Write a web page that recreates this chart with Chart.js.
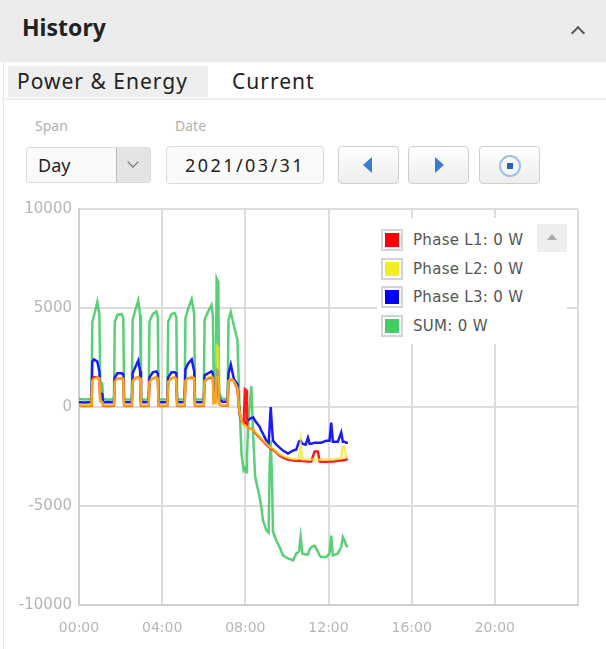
<!DOCTYPE html>
<html lang="en">
<head>
<meta charset="UTF-8">
<title>History</title>
<script src="https://cdn.jsdelivr.net/npm/chart.js"></script>
<style>
    html, body {
        margin: 0;
        padding: 0;
        width: 606px;
        height: 649px;
        background: #ffffff;
        font-family: "Noto Sans", sans-serif;
        overflow: hidden;
    }
    .abs { position: absolute; }
    .header {
        left: 0; top: 0; width: 606px; height: 62px;
        background: #ececec;
    }
    .header h1 {
        position: absolute; left: 22px; top: 11px; margin: 0;
        font-size: 23px; font-weight: bold; color: #222;
    }
    .chevron {
        left: 573px; top: 28px; width: 8px; height: 8px;
        border-left: 2px solid #555; border-top: 2px solid #555;
        transform: rotate(45deg);
    }
    .vline { left: 3px; top: 62px; width: 1px; height: 587px; background: #e6e6e6; }
    .tab {
        top: 66px; height: 31px; line-height: 31px;
        font-size: 21px; letter-spacing: 1px; color: #222;
    }
    .tab.active { left: 8px; width: 200px; background: #eeeeee; padding-left: 9px; box-sizing: border-box; }
    .divider { left: 3px; top: 98px; width: 603px; height: 2px; background: #ededed; }
    .lbl { top: 116px; font-size: 14px; color: #b0b0b0; }
    .select {
        left: 26px; top: 147px; width: 125px; height: 36px;
        border: 1px solid #dcdcdc; border-radius: 3px; background: #fafafa;
        box-sizing: border-box;
    }
    .select span { position: absolute; left: 11px; top: 5px; font-size: 18px; color: #222; }
    .select .drop {
        position: absolute; right: 0; top: 0; width: 33px; height: 34px;
        background: #e4e4e4; border-left: 1px solid #b8b8b8;
    }
    .select .drop:after {
        content: ""; position: absolute; left: 12px; top: 10px; width: 7px; height: 7px;
        border-right: 1.5px solid #666; border-bottom: 1.5px solid #666;
        transform: rotate(45deg);
    }
    .date {
        left: 166px; top: 146px; width: 158px; height: 38px;
        border: 1px solid #dcdcdc; border-radius: 4px; background: #fafafa;
        box-sizing: border-box; text-align: center; line-height: 36px;
        font-size: 18px; letter-spacing: 2.4px; color: #222;
    }
    .btn {
        top: 146px; width: 61px; height: 38px; box-sizing: border-box;
        border: 1px solid #cfcfcf; border-radius: 4px;
        background: linear-gradient(#ffffff, #ededed);
    }
    .tri-l {
        left: 24px; top: 10px; width: 0; height: 0;
        border-top: 8px solid transparent; border-bottom: 8px solid transparent;
        border-right: 9px solid #3b7bd8;
    }
    .tri-r {
        left: 26px; top: 10px; width: 0; height: 0;
        border-top: 8px solid transparent; border-bottom: 8px solid transparent;
        border-left: 9px solid #3b7bd8;
    }
    .ring {
        left: 19px; top: 8px; width: 18px; height: 18px; border-radius: 50%;
        border: 2px solid #9cc0ea; background: #f4f8fd;
    }
    .ring:after {
        content: ""; position: absolute; left: 6px; top: 6px; width: 6px; height: 6px;
        background: #2a5fb8;
    }
    #chartBox { left: 0; top: 195px; width: 600px; height: 450px; }
    .legend {
        left: 377px; top: 218px; width: 190px; height: 126px; background: #ffffff;
    }
    .legend .row {
        position: absolute; left: 4px; height: 24px;
        font-family: "DejaVu Sans", sans-serif; font-size: 15px; letter-spacing: 0.3px; color: #555;
    }
    .legend .sw {
        position: absolute; left: 0; top: 0; width: 22px; height: 22px;
        box-sizing: border-box; border: 2px solid #d4d4d4; background: #fff;
    }
    .legend .sw i {
        position: absolute; left: 2px; top: 2px; width: 14px; height: 14px;
    }
    .legend .row span { position: absolute; left: 32px; top: 2px; white-space: nowrap; }
    .upbtn { left: 537px; top: 224px; width: 30px; height: 28px; background: #eeeeee; }
    .upbtn:after {
        content: ""; position: absolute; left: 10px; top: 10px; width: 0; height: 0;
        border-left: 5px solid transparent; border-right: 5px solid transparent;
        border-bottom: 6px solid #a8a8a8;
    }
</style>
</head>
<body>
<div class="abs header"><h1>History</h1></div>
<div class="abs chevron"></div>
<div class="abs vline"></div>
<div class="abs tab active">Power &amp; Energy</div>
<div class="abs tab" style="left: 232px;">Current</div>
<div class="abs divider"></div>

<div class="abs lbl" style="left: 35px;">Span</div>
<div class="abs lbl" style="left: 175px;">Date</div>
<div class="abs select"><span>Day</span><div class="drop"></div></div>
<div class="abs date">2021/03/31</div>
<div class="abs btn" style="left: 338px;"><div class="abs tri-l"></div></div>
<div class="abs btn" style="left: 408px;"><div class="abs tri-r"></div></div>
<div class="abs btn" style="left: 479px;"><div class="abs ring"></div></div>

<div id="chartBox" class="abs"><canvas id="history" width="600" height="450"></canvas></div>
<div id="legend" class="abs legend"></div>
<div class="abs upbtn"></div>

<script>
// time of day in hours
const times = [
    0.00, 0.30, 0.60, 0.64, 0.72, 0.88, 0.98, 1.02, 1.12, 1.16,
    1.40, 1.68, 1.72, 1.85, 2.05, 2.13, 2.17, 2.35, 2.54, 2.58,
    2.70, 2.85, 2.94, 2.98, 3.15, 3.35, 3.39, 3.55, 3.72, 3.79,
    3.83, 4.05, 4.25, 4.29, 4.45, 4.60, 4.68, 4.72, 4.90, 5.08,
    5.12, 5.25, 5.42, 5.54, 5.58, 5.80, 6.00, 6.04, 6.20, 6.37,
    6.44, 6.48, 6.58, 6.62, 6.70, 6.74, 6.90, 7.15, 7.19, 7.30,
    7.45, 7.62, 7.72, 7.82, 7.92, 7.98, 8.04, 8.08, 8.14, 8.29,
    8.38, 8.47, 8.69, 8.77, 8.85, 9.01, 9.12, 9.17, 9.22, 9.28,
    9.33, 9.49, 9.65, 9.81, 10.05, 10.21, 10.29, 10.45, 10.58, 10.66,
    10.74, 10.90, 11.01, 11.09, 11.17, 11.33, 11.49, 11.57, 11.65, 11.89,
    12.05, 12.13, 12.21, 12.45, 12.61, 12.69, 12.77, 12.85, 12.93
];

const phaseL1 = [
    60, 50, 60, 1400, 1500, 1500, 1400, 300, 250, 60,
    50, 60, 1300, 1450, 1450, 1400, 60, 50, 60, 1300,
    1450, 1500, 1400, 60, 50, 60, 1300, 1450, 1500, 1450,
    60, 50, 60, 1300, 1450, 1500, 1450, 60, 50, 60,
    1350, 1450, 1500, 1450, 60, 50, 60, 1300, 1450, 1500,
    1450, 200, 250, 1500, 1500, 150, 60, 70, 1300, 1400,
    1300, 900, -300, -700, -850, 900, 850, -1000, -1030, -1100,
    -1150, -1300, -1550, -1650, -1720, -1900, -2000, -2050, -2100, -2130,
    -2160, -2300, -2460, -2550, -2650, -2680, -2700, -2720, -2720, -2720,
    -2730, -2740, -2750, -2750, -2750, -2250, -2250, -2750, -2760, -2760,
    -2750, -2750, -2750, -2720, -2700, -2690, -2680, -2650, -2620
];

const phaseL2 = [
    80, 90, 80, 1300, 1400, 1500, 1450, 300, 250, 90,
    80, 90, 1250, 1450, 1500, 1400, 80, 90, 80, 1300,
    1450, 1500, 1450, 90, 80, 80, 1250, 1450, 1500, 1400,
    80, 90, 80, 1250, 1450, 1500, 1400, 80, 90, 80,
    1300, 1450, 1550, 1450, 80, 90, 80, 1300, 1500, 1550,
    1450, 150, 200, 3100, 3000, 150, 80, 90, 1300, 1450,
    1300, 950, -250, -700, -900, -950, -1000, -1000, -1020, -1100,
    -1150, -1250, -1500, -1600, -1680, -1850, -1950, -2000, -2050, -2080,
    -2100, -2250, -2400, -2480, -2560, -2600, -2620, -2640, -2600, -1800,
    -2650, -2650, -2660, -2660, -2650, -2650, -2660, -2660, -2660, -2660,
    -2650, -2650, -2650, -2620, -2600, -2000, -2000, -2550, -2550
];

const phaseL3 = [
    240, 230, 250, 2300, 2400, 2300, 1800, 700, 650, 240,
    250, 240, 1500, 1700, 1700, 1650, 250, 240, 250, 1700,
    2000, 2350, 1800, 260, 240, 250, 1500, 1750, 1800, 1700,
    250, 240, 250, 1500, 1750, 1750, 1700, 250, 240, 250,
    1900, 2200, 2400, 1800, 250, 240, 250, 1600, 1700, 1800,
    1700, 600, 800, 1900, 1800, 400, 260, 260, 1700, 2150,
    1400, 1150, -300, -720, -780, -800, -800, -750, -650, -550,
    -530, -700, -1000, -1200, -1350, -1700, -1850, -1000, 0, -1000,
    -1700, -1900, -2050, -2200, -2350, -2250, -2200, -2150, -1750, -1700,
    -1850, -1900, -1550, -1850, -1850, -1800, -1800, -1800, -1800, -1700,
    -1700, -790, -1750, -1750, -1290, -1750, -1750, -1800, -1800
];

const sumPower = [
    400, 380, 400, 4300, 4600, 5300, 4650, 1300, 1150, 400,
    380, 390, 4300, 4650, 4700, 4500, 390, 380, 390, 4400,
    4850, 5380, 4650, 410, 370, 390, 4300, 4700, 4830, 4550,
    390, 380, 390, 4300, 4700, 4750, 4550, 390, 380, 390,
    4500, 4950, 5450, 4700, 390, 380, 390, 4400, 4800, 5150,
    4600, 1200, 1300, 6500, 6300, 700, 400, 420, 4400, 4800,
    4100, 3400, 0, -2400, -3200, -3100, -3300, -2500, -800, 1050,
    -1500, -3500, -4580, -5070, -5730, -6230, -6350, -3000, -1700, -3500,
    -6300, -6740, -7080, -7490, -7650, -7700, -7750, -7400, -7300, -6570,
    -7400, -7450, -7450, -7200, -7080, -7000, -7300, -7500, -7580, -7580,
    -7400, -6490, -7500, -7400, -7080, -6570, -6740, -7000, -7080
];

const seriesNames = ['Phase L1: 0 W', 'Phase L2: 0 W', 'Phase L3: 0 W', 'SUM: 0 W'];
const swatchColors = ['#ff0000', '#f2ee22', '#0000ff', '#44cc66'];
const xTickLabels = ['00:00', '04:00', '08:00', '12:00', '16:00', '20:00'];

function points(values) {
    return values.map((v, i) => ({ x: times[i], y: v }));
}

const tickColor = '#b6b6b6';
const gridColor = '#dcdcdc';

new Chart(document.getElementById('history'), {
    type: 'line',
    data: {
        datasets: [
            { label: seriesNames[1], data: points(phaseL2), borderColor: 'rgba(240,228,30,0.7)', order: 0 },
            { label: seriesNames[0], data: points(phaseL1), borderColor: '#ff1a1a', order: 1 },
            { label: seriesNames[2], data: points(phaseL3), borderColor: '#1a1aff', order: 2 },
            { label: seriesNames[3], data: points(sumPower), borderColor: 'rgba(60,200,95,0.85)', order: 3 }
        ]
    },
    options: {
        responsive: false,
        animation: false,
        devicePixelRatio: 1,
        layout: { padding: { top: 14, right: 22, left: 0, bottom: 0 } },
        elements: {
            line: { borderWidth: 2.5, tension: 0 },
            point: { radius: 0 }
        },
        plugins: { legend: { display: false }, tooltip: { enabled: false } },
        scales: {
            x: {
                type: 'linear', min: 0, max: 24,
                ticks: {
                    stepSize: 4, autoSkip: false, maxRotation: 0,
                    color: tickColor, font: { family: 'DejaVu Sans', size: 14 }, padding: 15,
                    callback: v => xTickLabels[v / 4] || ''
                },
                grid: { color: gridColor, lineWidth: 2, drawTicks: false },
                border: { color: '#cfcfcf', width: 2 },
                afterFit: s => { s.height = 40; s.paddingLeft = 0; s.paddingRight = 0; }
            },
            y: {
                min: -10000, max: 10000,
                ticks: {
                    stepSize: 5000, color: tickColor, font: { family: 'DejaVu Sans', size: 15 }, padding: 7,
                    callback: v => String(v)
                },
                grid: { color: gridColor, lineWidth: 2, drawTicks: false },
                border: { color: '#cfcfcf', width: 2 },
                afterFit: s => { s.width = 79; s.paddingTop = 0; s.paddingBottom = 0; }
            }
        }
    }
});

// legend box drawn like the original widget
const legend = document.getElementById('legend');
seriesNames.forEach((name, i) => {
    const row = document.createElement('div');
    row.className = 'row';
    row.style.top = (11 + i * 28.7) + 'px';
    row.innerHTML = '<div class="sw"><i style="background:' + swatchColors[i] + '"></i></div><span>' + name + '</span>';
    legend.appendChild(row);
});
</script>
</body>
</html>
